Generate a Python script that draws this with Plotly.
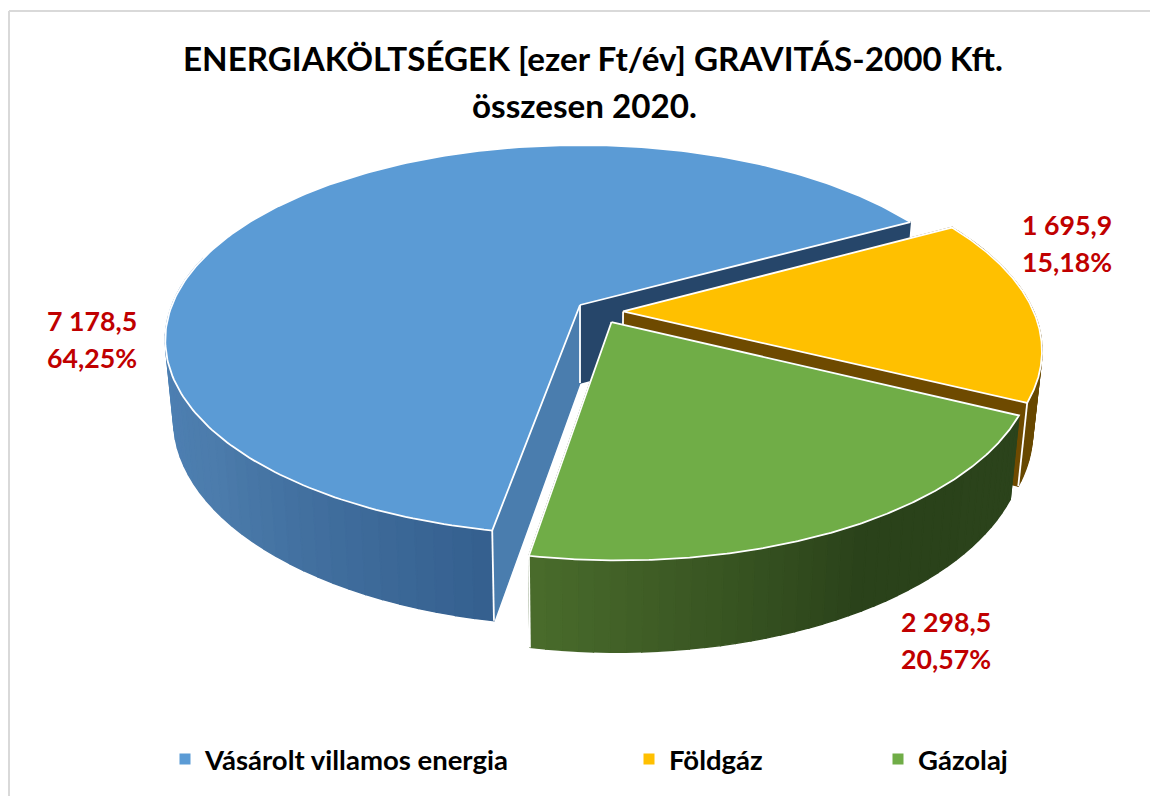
import numpy as np
import plotly.graph_objects as go

# ---- data ----
categories = ["Vásárolt villamos energia", "Földgáz", "Gázolaj"]
values = [7178.5, 1695.9, 2298.5]
value_labels = ["7 178,5", "1 695,9", "2 298,5"]
percent_labels = ["64,25%", "15,18%", "20,57%"]
title_lines = ["ENERGIAKÖLTSÉGEK [ezer Ft/év] GRAVITÁS-2000 Kft.", "összesen 2020."]

top_colors = ["#5B9BD5", "#FFC000", "#70AD47"]
cut_colors = [("#26466A", "#4A7DAE"), ("#6E4A00", "#6E4A00"), ("#2D451E", "#2D451E")]
wall_ramps = [
    [(0.0, (80, 134, 189)), (0.55, (76, 124, 172)), (1.0, (53, 96, 143))],
    [(0.0, (112, 80, 0)), (1.0, (104, 72, 0))],
    [(0.0, (44, 68, 28)), (0.45, (42, 66, 26)), (1.0, (74, 108, 44))],
]
label_pos = [(48, 321, 358), (1023, 225, 262), (902, 622, 659)]
legend_x = [165, 629, 878]

# page offset of the plot inside the browser window
PAGE = 8
W, H_PAGE = 1158, 796
FIG_W, FIG_H = W - PAGE, H_PAGE - PAGE

# ---- projection of the 3D pie onto the page ----
CX, CY, R, S, K, H, SHRINK = 580, 305, 408, 188.7, 0.1795, 78, 0.98
START = 28.5
offsets = [(0, 0), (0.105, -0.034), (0.076, -0.089)]


def top(u, v):
    w = 1 + K * v
    return CX + R * u / w, CY - S * v / w


def bottom(u, v):
    w = 1 + K * v
    return CX + R * SHRINK * u / w, CY + (-S * SHRINK * v + H) / w


def ramp(stops, t):
    for (t0, c0), (t1, c1) in zip(stops, stops[1:]):
        if t <= t1:
            f = (t - t0) / (t1 - t0)
            return "rgb(%d,%d,%d)" % tuple(a + (b - a) * f for a, b in zip(c0, c1))
    return "rgb(%d,%d,%d)" % stops[-1][1]


total = sum(values)
sweeps = [v / total * 360 for v in values]
bounds = [
    (START, START + sweeps[0]),
    (START, START - sweeps[1]),
    (START - sweeps[1], START - sweeps[1] - sweeps[2]),
]
visible_wall = [(165, START + sweeps[0]), bounds[1], bounds[2]]

fig = go.Figure()


def poly(xs, ys, fill, line=None, width=0):
    fig.add_trace(go.Scatter(
        x=list(xs), y=list(ys), mode="lines", fill="toself", fillcolor=fill,
        line=dict(color=line or fill, width=width if line else 1.4),
        hoverinfo="skip", showlegend=False))


def stroke(pts, width=2):
    fig.add_trace(go.Scatter(
        x=[p[0] for p in pts], y=[p[1] for p in pts], mode="lines",
        line=dict(color="white", width=width), hoverinfo="skip", showlegend=False))


for i in range(3):
    ou, ov = offsets[i]
    a0, a1 = bounds[i]
    angle_a, angle_b = np.radians(a0), np.radians(a1)

    def P(a):
        return ou + np.cos(a), ov + np.sin(a)

    # flat cut walls
    for a, col in zip((angle_a, angle_b), cut_colors[i]):
        u, v = P(a)
        t1, t2 = top(ou, ov), top(u, v)
        b1, b2 = bottom(ou, ov), bottom(u, v)
        poly([t1[0], t2[0], b2[0], b1[0], t1[0]], [t1[1], t2[1], b2[1], b1[1], t1[1]], col)

    # curved wall, a band per step for the shading
    wa, wb = np.radians(visible_wall[i][0]), np.radians(visible_wall[i][1])
    steps = np.linspace(wa, wb, 41)
    for j in range(40):
        p0, p1 = P(steps[j]), P(steps[j + 1])
        t0, t1 = top(*p0), top(*p1)
        b0, b1 = bottom(*p0), bottom(*p1)
        poly([t0[0], t1[0], b1[0], b0[0], t0[0]], [t0[1], t1[1], b1[1], b0[1], t0[1]],
             ramp(wall_ramps[i], (j + 0.5) / 40))

    # white edges of the block
    ub, vb = P(angle_b)
    stroke([top(ou, ov), bottom(ou, ov)], 1.8)
    stroke([top(ub, vb), bottom(ub, vb)], 1.8)

    # top face
    arc = np.linspace(angle_a, angle_b, 240)
    pts = [top(ou, ov)] + [top(*P(a)) for a in arc] + [top(ou, ov)]
    poly([p[0] for p in pts], [p[1] for p in pts], top_colors[i], "white", 1.8)

# legend entries, each with its own legend box
for i, name in enumerate(categories):
    lname = "legend" if i == 0 else f"legend{i + 1}"
    fig.add_trace(go.Scatter(
        x=[None], y=[None], mode="markers", name=name, legend=lname,
        marker=dict(symbol="square", size=11, color=top_colors[i]), showlegend=True))

annotations = []
for i in range(3):
    x, y1, y2 = label_pos[i]
    for txt, y in ((value_labels[i], y1), (percent_labels[i], y2)):
        annotations.append(dict(
            x=x, y=y, xref="x", yref="y", text=f"<b>{txt}</b>", showarrow=False,
            xanchor="left", yanchor="middle", xshift=-3,
            font=dict(family="Lato", size=26.7, color="#C00000")))
annotations.append(dict(
    x=584, y=105, xref="x", yref="y", text=f"<b>{title_lines[1]}</b>", showarrow=False,
    xanchor="center", yanchor="middle",
    font=dict(family="Lato", size=33.2, color="#000000")))

legend_common = dict(
    orientation="h", y=1 - (759 - PAGE) / FIG_H, yanchor="middle", xanchor="left",
    bgcolor="rgba(0,0,0,0)", borderwidth=0, itemclick=False, itemdoubleclick=False,
    font=dict(family="Lato", size=27.5, color="#000000", weight="bold"))

frame = dict(color="#D9D9D9", width=2)

fig.update_layout(
    width=FIG_W, height=FIG_H, autosize=False,
    margin=dict(l=0, r=0, t=0, b=0),
    paper_bgcolor="white", plot_bgcolor="white",
    title=dict(text=f"<b>{title_lines[0]}</b>",
               x=(593 - PAGE) / FIG_W, xanchor="center",
               y=1 - (59 - PAGE) / FIG_H, yanchor="middle",
               font=dict(family="Lato", size=33.2, color="#000000")),
    xaxis=dict(range=[PAGE, W], visible=False, fixedrange=True),
    yaxis=dict(range=[H_PAGE, PAGE], visible=False, fixedrange=True),
    annotations=annotations,
    shapes=[
        dict(type="line", xref="x", yref="y", x0=9, y0=11, x1=W, y1=11, line=frame, layer="below"),
        dict(type="line", xref="x", yref="y", x0=9, y0=11, x1=9, y1=H_PAGE, line=frame, layer="below"),
    ],
    legend=dict(x=(legend_x[0] - PAGE) / FIG_W, **legend_common),
    legend2=dict(x=(legend_x[1] - PAGE) / FIG_W, **legend_common),
    legend3=dict(x=(legend_x[2] - PAGE) / FIG_W, **legend_common),
)

fig.write_html("out.html", config=dict(displayModeBar=False))
